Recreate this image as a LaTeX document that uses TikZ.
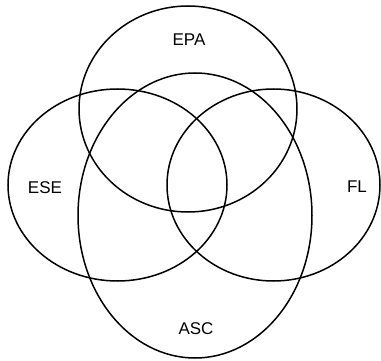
\documentclass[tikz,border=0pt]{standalone}
\usepackage{fontspec}
\setmainfont{Liberation Sans}
\begin{document}
\begin{tikzpicture}[x=1pt,y=-1pt,
  setshape/.style={draw=black,line width=1.5pt},
  setlabel/.style={font=\fontsize{17}{20}\selectfont,inner sep=0pt}]
\useasboundingbox (0,0) rectangle (381,361);
\draw[setshape] (188,109) ellipse [x radius=109, y radius=103];
\draw[setshape] (117.5,185) ellipse [x radius=109.5, y radius=96];
\draw[setshape] (273.5,185) ellipse [x radius=106.5, y radius=96];
\draw[setshape] (195,215.5) ellipse [x radius=117, y radius=142.5];
\node[setlabel] (epa) at (189,40) {EPA};
\node[setlabel] (ese) at (45,188) {ESE};
\node[setlabel] (fl) at (357,187) {FL};
\node[setlabel] (asc) at (196,329) {ASC};
\end{tikzpicture}
\end{document}
